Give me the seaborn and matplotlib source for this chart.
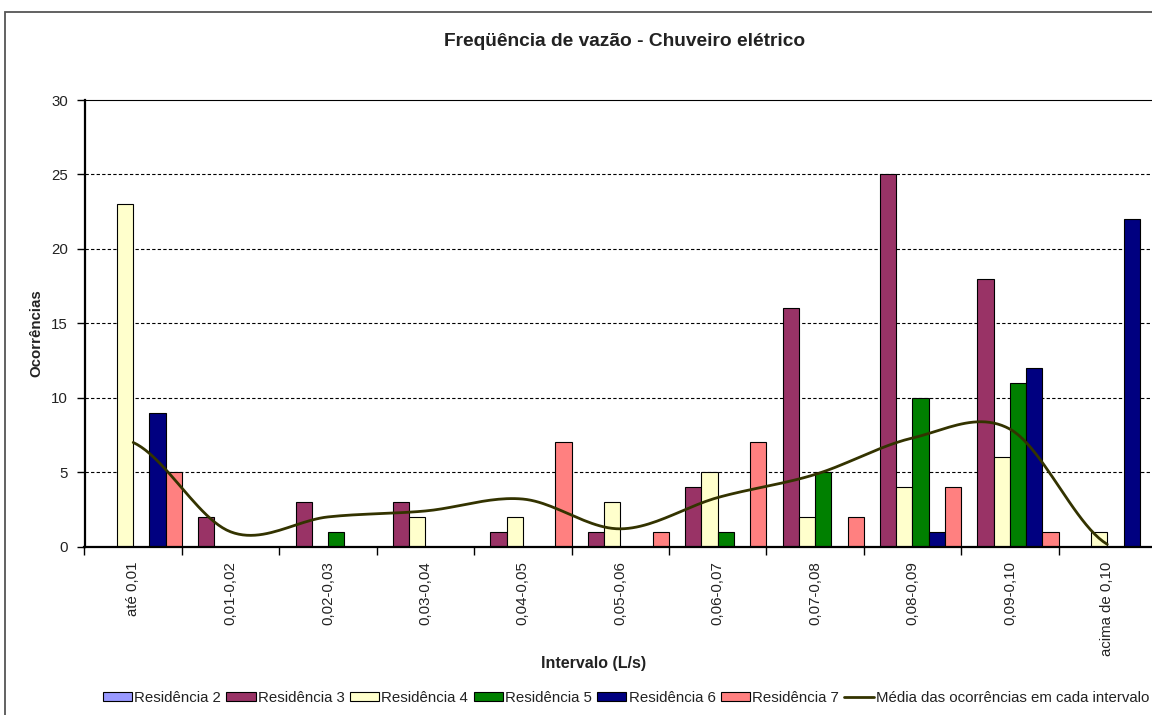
import numpy as np
import pandas as pd
import matplotlib
matplotlib.use("Agg")
import matplotlib.pyplot as plt
from matplotlib.patches import Patch, Rectangle
from matplotlib.lines import Line2D
import seaborn as sns

# ---- data -------------------------------------------------------------
intervalos = ["até 0,01", "0,01-0,02", "0,02-0,03", "0,03-0,04", "0,04-0,05",
              "0,05-0,06", "0,06-0,07", "0,07-0,08", "0,08-0,09", "0,09-0,10",
              "acima de 0,10"]

residencia_2 = [0, 0, 0, 0, 0, 0, 0, 0, 0, 0, 0]
residencia_3 = [0, 2, 3, 3, 1, 1, 4, 16, 25, 18, 0]
residencia_4 = [23, 0, 0, 2, 2, 3, 5, 2, 4, 6, 1]
residencia_5 = [0, 0, 1, 0, 0, 0, 1, 5, 10, 11, 0]
residencia_6 = [9, 0, 0, 0, 0, 0, 0, 0, 1, 12, 22]
residencia_7 = [5, 0, 0, 0, 7, 1, 7, 2, 4, 1, 0]

media = [7.0, 1.0, 2.0, 2.4, 3.2, 1.2, 3.3, 4.85, 7.3, 7.9, 0.16]

series_nomes = ["Residência 2", "Residência 3", "Residência 4",
                "Residência 5", "Residência 6", "Residência 7"]
media_nome = "Média das ocorrências em cada intervalo"

cores = ["#9999FF", "#993366", "#FFFFCC", "#008000", "#000080", "#FF8080"]
cor_media = "#333300"

# ---- long-form table for seaborn ---------------------------------------
valores = [residencia_2, residencia_3, residencia_4,
           residencia_5, residencia_6, residencia_7]
df = pd.DataFrame({
    "intervalo": np.tile(intervalos, len(series_nomes)),
    "residencia": np.repeat(series_nomes, len(intervalos)),
    "ocorrencias": np.concatenate(valores),
})

# smoothed average line (Catmull-Rom through the category points)
def catmull_rom(y, n=24):
    y = np.asarray(y, dtype=float)
    p = np.concatenate([[y[0]], y, [y[-1]]])
    xs, ys = [], []
    for i in range(len(y) - 1):
        p0, p1, p2, p3 = p[i], p[i + 1], p[i + 2], p[i + 3]
        t = np.linspace(0, 1, n, endpoint=(i == len(y) - 2))
        m1 = (p2 - p0) / 2
        m2 = (p3 - p1) / 2
        h00 = 2 * t**3 - 3 * t**2 + 1
        h10 = t**3 - 2 * t**2 + t
        h01 = -2 * t**3 + 3 * t**2
        h11 = t**3 - t**2
        ys.append(h00 * p1 + h10 * m1 + h01 * p2 + h11 * m2)
        xs.append(i + t)
    return np.concatenate(xs), np.concatenate(ys)

curva_x, curva_y = catmull_rom(media)

# ---- figure -----------------------------------------------------------
sns.set_theme(style="white")
plt.rcParams["font.family"] = ["Liberation Sans", "DejaVu Sans"]

W, H = 1152, 715
fig = plt.figure(figsize=(W / 100, H / 100), dpi=100)
fig.patch.set_facecolor("white")

# chart frame
fig.add_artist(Rectangle((5 / W, -0.2), 1.2, 1.2 - 12 / H,
                         transform=fig.transFigure, fill=False,
                         edgecolor="#555555", linewidth=1.3, clip_on=False))

ax_left, ax_right = 84.5, 1156.0
ax_top, ax_bottom = 100.0, 546.7
ax = fig.add_axes([ax_left / W, 1 - ax_bottom / H,
                   (ax_right - ax_left) / W, (ax_bottom - ax_top) / H])
ax.set_facecolor("white")

sns.barplot(data=df, x="intervalo", y="ocorrencias", hue="residencia",
            order=intervalos, hue_order=series_nomes, palette=cores,
            width=1.0, gap=0, saturation=1, errorbar=None,
            edgecolor="black", linewidth=0.8, legend=False, ax=ax, zorder=2)

sns.lineplot(x=curva_x, y=curva_y, color=cor_media, linewidth=2.0,
             sort=False, estimator=None, ax=ax, zorder=3)

ax.set_xlim(-0.5, len(intervalos) - 0.5)
ax.set_ylim(0, 30)
ax.set_yticks(range(0, 31, 5))

# dashed major gridlines
for v in range(5, 30, 5):
    ax.axhline(v, color="black", linewidth=0.8, linestyle=(0, (3, 2)), zorder=1)

ax.spines["right"].set_visible(False)
ax.spines["top"].set_color("black")
ax.spines["top"].set_linewidth(0.8)
ax.spines["left"].set_color("black")
ax.spines["left"].set_linewidth(1.6)
ax.spines["bottom"].set_color("black")
ax.spines["bottom"].set_linewidth(1.6)

# category labels at centres, tick marks at boundaries
ax.set_xticks(range(len(intervalos)))
ax.set_xticklabels(intervalos, rotation=90, fontsize=10.8, color="#222222")
ax.set_xticks(np.arange(-0.5, len(intervalos), 1.0), minor=True)
ax.tick_params(axis="x", which="major", length=0, pad=10.5)
ax.tick_params(axis="x", which="minor", length=6, width=1.0, color="black",
               direction="out", bottom=True)
ax.tick_params(axis="y", length=6, width=1.0, color="black", direction="out",
               left=True, pad=6, labelsize=10.8, labelcolor="#222222")

ax.set_xlabel("Intervalo (L/s)", fontsize=11.5, fontweight="bold", color="#222222")
ax.set_ylabel("Ocorrências", fontsize=10.8, fontweight="bold", color="#222222")
ax.xaxis.set_label_coords((594 - ax_left) / (ax_right - ax_left),
                          -(656 - ax_bottom) / (ax_bottom - ax_top))
ax.yaxis.set_label_coords((43 - ax_left) / (ax_right - ax_left),
                          (ax_bottom - 333) / (ax_bottom - ax_top))

fig.text(625 / W, 1 - 42 / H, "Freqüência de vazão - Chuveiro elétrico",
         ha="center", va="center", fontsize=13.8, fontweight="bold",
         color="#222222")

# legend
handles = [Patch(facecolor=c, edgecolor="black", linewidth=0.8) for c in cores]
handles.append(Line2D([0], [0], color=cor_media, linewidth=2.0))
labels = series_nomes + [media_nome]
fig.legend(handles, labels, loc="center", bbox_to_anchor=(626 / W, 1 - 698 / H),
           ncol=7, frameon=False, fontsize=10.8, handlelength=1.95,
           handleheight=0.55, handletextpad=0.15, columnspacing=0.35,
           borderaxespad=0, labelcolor="#222222")

fig.savefig("out.png", dpi=100, facecolor="white")
